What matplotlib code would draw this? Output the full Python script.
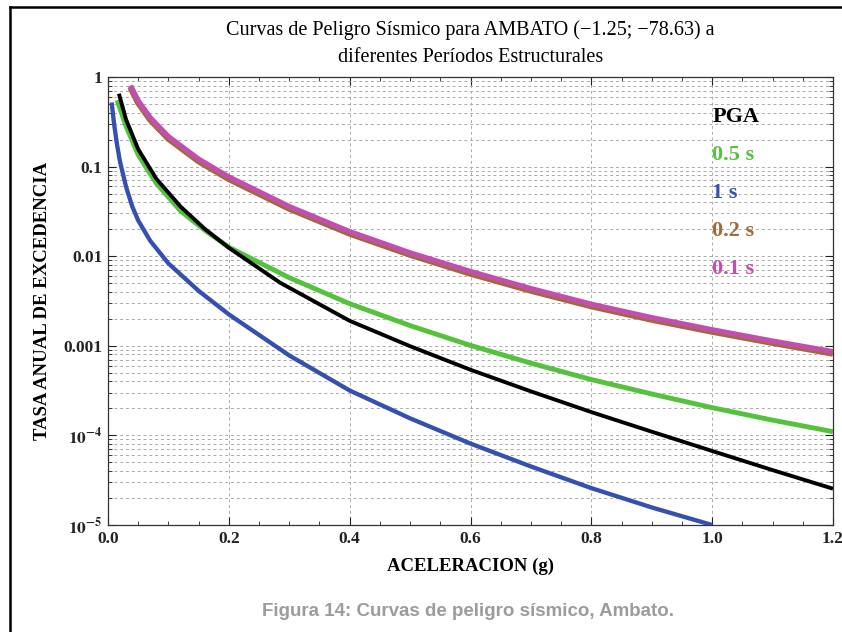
import numpy as np
import matplotlib
matplotlib.use('Agg')
from matplotlib import pyplot as plt
from matplotlib.lines import Line2D
from matplotlib.ticker import FixedLocator, FixedFormatter, MultipleLocator, LogLocator, NullFormatter

plt.rcParams['font.family'] = ['Liberation Serif', 'DejaVu Serif']
plt.rcParams['mathtext.fontset'] = 'stix'

# curve data (acceleration in g, annual rate of exceedance)
pga_a = [0.018, 0.03, 0.05, 0.08, 0.12, 0.16, 0.2, 0.285, 0.4, 0.5, 0.6, 0.7, 0.8, 0.9, 1.0, 1.1, 1.2]
pga_r = [0.65, 0.333, 0.156, 0.073, 0.0358, 0.0202, 0.0124, 0.00505, 0.0019, 9.9e-4, 5.4e-4,
         3.1e-4, 1.82e-4, 1.1e-4, 6.7e-5, 4.1e-5, 2.54e-5]

s05_a = [0.015, 0.03, 0.05, 0.08, 0.12, 0.16, 0.2, 0.3, 0.4, 0.5, 0.6, 0.7, 0.8, 0.9, 1.0, 1.1, 1.2]
s05_r = [0.55, 0.28, 0.135, 0.065, 0.032, 0.0195, 0.0126, 0.00575, 0.00295, 0.00168, 0.00101,
         6.4e-4, 4.2e-4, 2.9e-4, 2.04e-4, 1.48e-4, 1.1e-4]

s1_a = [0.006, 0.01, 0.015, 0.02, 0.03, 0.04, 0.05, 0.07, 0.1, 0.15, 0.2, 0.3, 0.4, 0.5, 0.6,
        0.7, 0.8, 0.9, 1.0]
s1_r = [0.52, 0.30, 0.174, 0.112, 0.059, 0.036, 0.025, 0.0148, 0.0083, 0.0041, 0.00224, 7.8e-4,
        3.17e-4, 1.55e-4, 8.1e-5, 4.5e-5, 2.58e-5, 1.57e-5, 1.0e-5]

s01_a = [0.037, 0.05, 0.07, 0.1, 0.15, 0.2, 0.3, 0.4, 0.5, 0.6, 0.7, 0.8, 0.9, 1.0, 1.1, 1.2]
s01_r = [0.80, 0.542, 0.35, 0.216, 0.121, 0.0766, 0.0358, 0.0188, 0.0109, 0.00675, 0.00435,
         0.00291, 0.00206, 0.00151, 0.00113, 8.6e-4]
s02_r = [0.77, 0.515, 0.333, 0.205, 0.115, 0.0728, 0.034, 0.0179, 0.0104, 0.0064, 0.00413,
         0.00277, 0.00196, 0.00144, 0.00108, 8.2e-4]

y_ticks = [1e-5, 1e-4, 1e-3, 1e-2, 1e-1, 1]
y_labels = [r'$\mathbf{10^{-5}}$', r'$\mathbf{10^{-4}}$', '0.001', '0.01', '0.1', '1']
x_ticks = [0.0, 0.2, 0.4, 0.6, 0.8, 1.0, 1.2]
x_labels = ['0.0', '0.2', '0.4', '0.6', '0.8', '1.0', '1.2']

c_black = '#000000'
c_green = '#55c23c'
c_blue = '#3650b0'
c_brown = '#a06a38'
c_mag = '#c24fae'

fig = plt.figure(figsize=(8.42, 6.32), dpi=100, facecolor='white')
ax = fig.add_axes([0.1283, 0.1693, 0.861, 0.7089])

ax.plot(s01_a, s02_r, color=c_brown, lw=4.6, solid_capstyle='butt', solid_joinstyle='round', zorder=3)
ax.plot(s01_a, s01_r, color=c_mag, lw=3.8, solid_capstyle='butt', solid_joinstyle='round', zorder=4)
ax.plot(s05_a, s05_r, color=c_green, lw=3.5, solid_capstyle='butt', solid_joinstyle='round', zorder=3)
ax.plot(pga_a, pga_r, color=c_black, lw=2.8, solid_capstyle='butt', solid_joinstyle='round', zorder=3)
ax.plot(s1_a, s1_r, color=c_blue, lw=3.1, solid_capstyle='butt', solid_joinstyle='round', zorder=3)

ax.set_yscale('log')
ax.set_xlim(0, 1.2)
ax.set_ylim(1e-5, 1)

ax.yaxis.set_major_locator(FixedLocator(y_ticks))
ax.yaxis.set_major_formatter(FixedFormatter(y_labels))
ax.yaxis.set_minor_locator(LogLocator(base=10, subs=np.arange(2, 10)))
ax.yaxis.set_minor_formatter(NullFormatter())
ax.xaxis.set_major_locator(FixedLocator(x_ticks))
ax.xaxis.set_major_formatter(FixedFormatter(x_labels))
ax.xaxis.set_minor_locator(MultipleLocator(0.05))

ax.tick_params(which='both', direction='in', top=True, right=True, colors='#222222')
ax.tick_params(which='major', length=6, width=0.8, labelsize=12.5, pad=4)
ax.tick_params(which='minor', length=3, width=0.6)
for lab in ax.get_xticklabels() + ax.get_yticklabels():
    lab.set_fontweight('bold')

ax.grid(which='major', axis='x', color='#aaaaaa', ls=(0, (3, 3)), lw=0.7)
ax.grid(which='both', axis='y', color='#aaaaaa', ls=(0, (3, 3)), lw=0.7)
for sp in ax.spines.values():
    sp.set_linewidth(0.9)
    sp.set_color('#333333')

ax.set_xlabel('ACELERACION (g)', fontsize=13.5, fontweight='bold', labelpad=8)
ax.set_ylabel('TASA ANUAL DE EXCEDENCIA', fontsize=13.5, fontweight='bold', labelpad=9)

fig.text(0.559, 0.952, 'Curvas de Peligro Sísmico para AMBATO (\u22121.25; \u221278.63) a',
         ha='center', va='center', fontsize=14.5)
fig.text(0.559, 0.909, 'diferentes Períodos Estructurales', ha='center', va='center', fontsize=14.5)

labels = ['PGA', '0.5 s', '1 s', '0.2 s', '0.1 s']
label_colors = [c_black, c_green, c_blue, c_brown, c_mag]
for i, (t, c) in enumerate(zip(labels, label_colors)):
    fig.text(0.846, 1 - (117 + 38 * i) / 632, t, color=c, fontsize=16, fontweight='bold',
             ha='left', va='center')

fig.text(0.556, 1 - 612 / 632, 'Figura 14: Curvas de peligro sísmico, Ambato.',
         ha='center', va='center', fontsize=13.5, fontweight='bold', color='#9c9c9c',
         family=['Liberation Sans', 'DejaVu Sans'])

# outer frame (cropped on the right and bottom)
fig.add_artist(Line2D([0.0119, 1.0], [0.989, 0.989], color='black', lw=1.8))
fig.add_artist(Line2D([0.0119, 0.0119], [0.0, 0.989], color='black', lw=1.8))

fig.savefig('out.png', dpi=100, facecolor='white')
